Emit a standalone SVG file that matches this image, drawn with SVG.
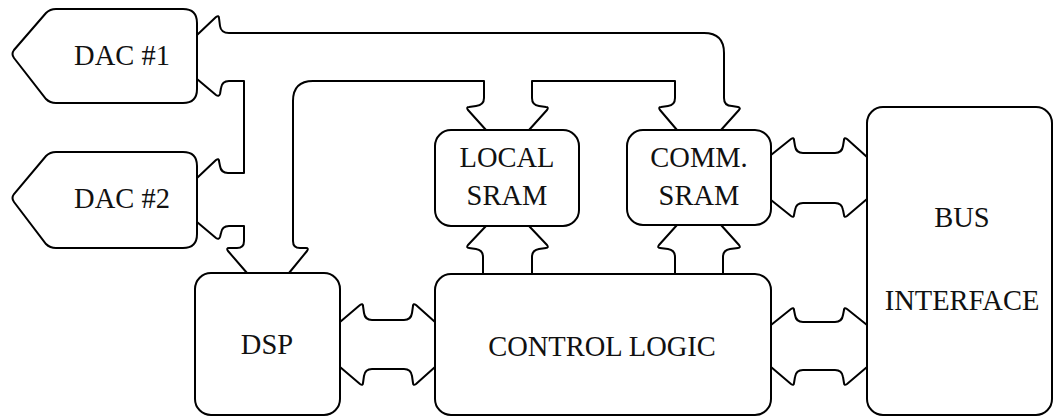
<svg xmlns="http://www.w3.org/2000/svg" width="1054" height="417" viewBox="0 0 1054 417">
  <style>
    .box { fill: #fff; stroke: #000; stroke-width: 2; }
    .bus { fill: none; stroke: #000; stroke-width: 2; stroke-linejoin: round; stroke-linecap: round; }
    .lbl { font-family: 'Liberation Serif', 'Times New Roman', serif; font-size: 28.5px; text-anchor: middle; fill: #111; }
  </style>
  <rect width="1054" height="417" fill="#fff"/>

  <!-- wide bus outlines -->
  <g id="connectors">
    <!-- shared local bus: DAC #1, DAC #2, DSP, LOCAL SRAM, COMM. SRAM -->
    <path class="bus" d="M197,35 L216,17 Q219,15 219,18 L220,26 Q221,33 229,33 L704,33 Q724,33 724,53 L724,98 Q724,106 732,106 L738,107 Q741,108 739,110 L721,130"/>
    <path class="bus" d="M677,130 L660,110 Q658,107 661,107 L668,106 Q675,105 675,98 L675,81 L532,81 L532,98 Q532,105 539,106 L546,107 Q549,107 547,110 L529,130"/>
    <path class="bus" d="M486,130 L468,110 Q466,107 469,107 L476,106 Q484,105 484,98 L484,81 L313,81 Q293,81 293,101 L293,241 Q293,248 300,248 L306,248 Q309,248 307,251 L289,273"/>
    <path class="bus" d="M247,273 L228,251 Q226,248 229,248 L237,248 Q244,248 244,241 L244,226 L229,226 Q222,226 221,233 L220,237 Q219,240 216,238 L197,222"/>
    <path class="bus" d="M197,178 L216,160 Q219,158 219,161 L220,166 Q221,173 228,173 L244,173 L244,81 L229,81 Q222,81 221,88 L220,94 Q219,97 216,95 L197,79"/>

    <!-- LOCAL SRAM to CONTROL LOGIC -->
    <path class="bus" d="M486,226 L468,245 Q466,248 469,248 L476,249 Q483,250 483,257 L483,274"/>
    <path class="bus" d="M529,226 L547,245 Q549,248 546,248 L539,249 Q532,250 532,257 L532,274"/>

    <!-- COMM. SRAM to CONTROL LOGIC -->
    <path class="bus" d="M677,225 L659,245 Q657,248 660,248 L668,249 Q675,250 675,257 L675,274"/>
    <path class="bus" d="M721,225 L739,245 Q741,248 738,248 L730,249 Q723,250 723,257 L723,274"/>

    <!-- DSP to CONTROL LOGIC -->
    <path class="bus" d="M340,322 L360,305 Q363,303 363,306 L364,313 Q365,320 372,320 L404,320 Q411,320 412,313 L413,306 Q413,303 416,305 L435,322"/>
    <path class="bus" d="M340,367 L360,384 Q363,386 363,383 L364,376 Q365,369 372,369 L404,369 Q411,369 412,376 L413,383 Q413,386 416,384 L435,367"/>

    <!-- COMM. SRAM to BUS INTERFACE -->
    <path class="bus" d="M771,155 L791,139 Q794,137 794,140 L795,146 Q796,153 803,153 L835,153 Q842,153 843,146 L844,140 Q844,137 847,139 L867,157"/>
    <path class="bus" d="M771,200 L791,216 Q794,218 794,215 L795,210 Q796,203 803,203 L835,203 Q842,203 843,210 L844,215 Q844,218 847,216 L867,199"/>

    <!-- CONTROL LOGIC to BUS INTERFACE -->
    <path class="bus" d="M771,325 L791,309 Q794,307 794,310 L795,315 Q796,322 803,322 L835,322 Q842,322 843,315 L844,310 Q844,307 847,309 L867,325"/>
    <path class="bus" d="M771,367 L791,384 Q794,386 794,383 L795,377 Q796,370 803,370 L835,370 Q842,370 843,377 L844,383 Q844,386 847,384 L867,367"/>
  </g>

  <g id="dac1">
    <path class="box" d="M56,9 L183,9 Q197,9 197,23 L197,89 Q197,103 183,103 L56,103 Q50,103 46,99 L14,58 Q11,54 14,50 L46,13 Q50,9 56,9 Z"/>
    <text class="lbl" x="122" y="65">DAC #1</text>
  </g>

  <g id="dac2">
    <path class="box" d="M56,152 L183,152 Q197,152 197,166 L197,234 Q197,248 183,248 L56,248 Q50,248 46,244 L14,202 Q11,198 14,194 L46,156 Q50,152 56,152 Z"/>
    <text class="lbl" x="122" y="208">DAC #2</text>
  </g>

  <g id="local-sram">
    <rect class="box" x="435" y="130" width="144" height="96" rx="16"/>
    <text class="lbl" x="507" y="167">LOCAL</text>
    <text class="lbl" x="507" y="205">SRAM</text>
  </g>

  <g id="comm-sram">
    <rect class="box" x="627" y="130" width="144" height="95" rx="16"/>
    <text class="lbl" x="699" y="167">COMM.</text>
    <text class="lbl" x="699" y="205">SRAM</text>
  </g>

  <g id="dsp">
    <rect class="box" x="195" y="273" width="145" height="142" rx="16"/>
    <text class="lbl" x="267" y="354">DSP</text>
  </g>

  <g id="control-logic">
    <rect class="box" x="435" y="274" width="336" height="141" rx="16"/>
    <text class="lbl" x="602" y="356">CONTROL LOGIC</text>
  </g>

  <g id="bus-interface">
    <rect class="box" x="867" y="107" width="185" height="308" rx="16"/>
    <text class="lbl" x="962" y="227">BUS</text>
    <text class="lbl" x="962" y="310">INTERFACE</text>
  </g>
</svg>
